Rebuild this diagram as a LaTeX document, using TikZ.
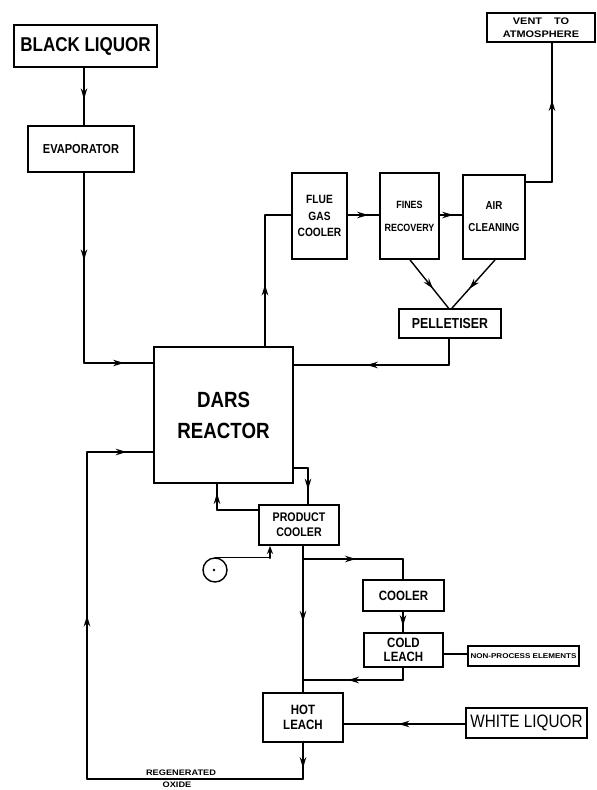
\documentclass[tikz,border=0pt]{standalone}
\usepackage{fontspec}
\newfontfamily\hand[FakeStretch=0.85]{Liberation Sans}
\newfontfamily\handwide[FakeStretch=1.15]{Liberation Sans}
\usetikzlibrary{arrows.meta,decorations.markings}
\newcommand\fsz[2]{\fontsize{#1}{#2}\selectfont}
\tikzset{
  box/.style={draw, line width=1.8pt, inner sep=0pt, align=center},
  flow/.style={line width=1.4pt, line cap=round},
  ma/.style={postaction={decorate},decoration={markings,mark=at position #1 with {\arrow{Stealth[length=11pt,width=6.5pt]}}}},
  ma/.default=0.5,
}
\begin{document}
\begin{tikzpicture}[x=1pt,y=-1pt]
\fill[white] (0,0) rectangle (597,790);
\useasboundingbox (0,0) rectangle (597,790);

% boxes
\node[box, minimum width=143pt, minimum height=42pt, font=\hand\bfseries\fsz{20}{24}] (bl) at (85.5,46) {BLACK LIQUOR};
\node[box, minimum width=106pt, minimum height=46pt, font=\hand\bfseries\fsz{13}{15}] (ev) at (81,149) {EVAPORATOR};
\node[box, minimum width=139pt, minimum height=136pt, font=\hand\bfseries\fsz{22}{31}] (dars) at (223.5,415) {DARS\\REACTOR};
\node[box, minimum width=55pt, minimum height=86pt, font=\hand\bfseries\fsz{12}{16.5}] (flue) at (319.5,216) {FLUE\\GAS\\COOLER};
\node[box, minimum width=59pt, minimum height=86pt, font=\hand\bfseries\fsz{10.5}{23}] (fines) at (409.5,216) {FINES\\RECOVERY};
\node[box, minimum width=62pt, minimum height=84pt, font=\hand\bfseries\fsz{11.5}{22}] (air) at (494,217) {AIR\\CLEANING};
\node[box, minimum width=108pt, minimum height=29pt, font=\handwide\bfseries\fsz{9.5}{13}] (vent) at (541,27.5) {VENT\hspace{12pt}TO\\ATMOSPHERE};
\node[box, minimum width=102pt, minimum height=29pt, font=\hand\bfseries\fsz{14.5}{17}] (pel) at (450,323.5) {PELLETISER};
\node[box, minimum width=80pt, minimum height=40pt, font=\hand\bfseries\fsz{12.5}{15}] (pc) at (299,525) {PRODUCT\\COOLER};
\node[box, minimum width=81pt, minimum height=31pt, font=\hand\bfseries\fsz{13.5}{16}] (cool) at (403.5,595.5) {COOLER};
\node[box, minimum width=79pt, minimum height=34pt, font=\hand\bfseries\fsz{13.5}{14}] (cold) at (403.5,650) {COLD\\LEACH};
\node[box, minimum width=111pt, minimum height=20pt, font=\handwide\bfseries\fsz{7}{8}] (npe) at (523.5,656) {NON-PROCESS ELEMENTS};
\node[box, minimum width=80pt, minimum height=49pt, font=\hand\bfseries\fsz{13.5}{15}] (hot) at (303,717.5) {HOT\\LEACH};
\node[box, minimum width=121pt, minimum height=30pt, font=\hand\fsz{18}{20}] (wl) at (526.5,723) {WHITE LIQUOR};
\node[draw, circle, line width=1.4pt, minimum size=24pt, inner sep=0pt] (c) at (215,570) {};
\fill ([xshift=-1pt]c.center) circle (1.3pt);

% junction coordinates
\coordinate (j1) at (84,363);
\coordinate (j2) at (265,215);
\coordinate (j3) at (552,182);
\coordinate (j4) at (449,365);
\coordinate (j5) at (308,468);
\coordinate (j6) at (217,510);
\coordinate (j7) at (270,558);
\coordinate (j8) at (303,559);
\coordinate (j9) at (303,680);
\coordinate (j10) at (403,559);
\coordinate (j11) at (403,680);
\coordinate (j12) at (450,654);
\coordinate (j13) at (400,724);
\coordinate (j14) at (303,779);
\coordinate (j15) at (87,779);
\coordinate (j16) at (87,452);

% connectors
\draw[flow,ma=0.55] (bl.south -| j1) -- (ev.north -| j1);
\draw[flow,ma=0.46] (ev.south -| j1) -- (j1);
\draw[flow,ma=0.58] (j1) -- (dars.west |- j1);

\draw[flow,ma=0.47] (dars.north -| j2) -- (j2);
\draw[flow] (j2) -- (flue.west |- j2);
\draw[flow,ma=0.65] (flue.east |- j2) -- (fines.west |- j2);
\draw[flow,ma=0.6] (fines.east |- j2) -- (air.west |- j2);

\draw[flow] (air.east |- j3) -- (j3);
\draw[flow,ma=0.59] (j3) -- (vent.south -| j3);

\draw[flow,ma=0.6] ([xshift=0.5pt]fines.south) -- ([xshift=-1.5pt]pel.north);
\draw[flow,ma=0.6] ([xshift=1pt]air.south) -- ([xshift=2pt]pel.north);

\draw[flow] (pel.south -| j4) -- (j4);
\draw[flow,ma=0.53] (j4) -- (dars.east |- j4);

\draw[flow] (dars.east |- j5) -- (j5);
\draw[flow,ma=0.6] (j5) -- (pc.north -| j5);

\draw[flow] (pc.west |- j6) -- (j6);
\draw[flow,ma=0.65] (j6) -- (dars.south -| j6);

\draw[flow] (c.north) -- (c.north -| j7) -- (j7);
\draw[flow,-{Stealth[length=8pt,width=6pt]}] (j7) -- (pc.south -| j7);

\draw[flow,ma=0.52] (pc.south -| j8) -- (hot.north -| j8);
\draw[flow,ma=0.53] (j8) -- (j10);
\draw[flow] (j10) -- (cool.north -| j10);
\draw[flow,ma=0.7] (cool.south -| j10) -- (cold.north -| j10);
\draw[flow] (cold.south -| j11) -- (j11);
\draw[flow,ma=0.55] (j11) -- (j9);
\draw[flow] (cold.east |- j12) -- (npe.west |- j12);

\draw[flow,ma=0.55] (wl.west |- j13) -- (hot.east |- j13);

\draw[flow,ma=0.7] (hot.south -| j14) -- (j14);
\draw[flow] (j14) -- (j15);
\draw[flow,ma=0.5] (j15) -- (j16);
\draw[flow,ma=0.6] (j16) -- (dars.west |- j16);

\node[font=\handwide\bfseries\fsz{8}{9}] (rg) at (181,772.5) {REGENERATED};
\node[font=\handwide\bfseries\fsz{8}{9}] (ox) at (177,785) {OXIDE};
\end{tikzpicture}
\end{document}
